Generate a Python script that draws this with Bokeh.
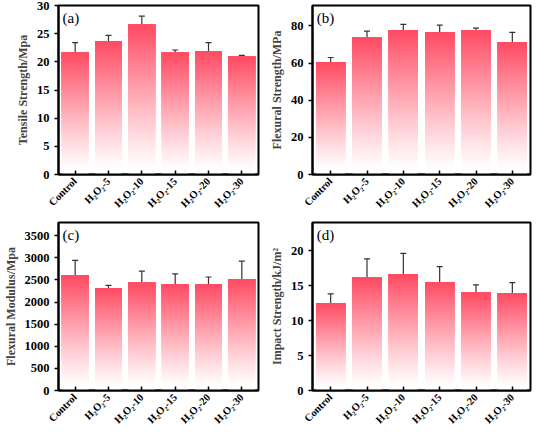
import math
from bokeh.plotting import figure
from bokeh.models import FixedTicker, Range1d, Whisker, TeeHead, ColumnDataSource, Label
from bokeh.layouts import gridplot
from bokeh.embed import file_html
from bokeh.resources import INLINE

categories = ["Control", "H₂O₂-5", "H₂O₂-10", "H₂O₂-15", "H₂O₂-20", "H₂O₂-30"]

tensile = [21.6, 23.7, 26.6, 21.6, 21.9, 20.9]
tensile_err = [1.8, 1.0, 1.5, 0.5, 1.5, 0.25]

flex_strength = [60.5, 73.7, 77.8, 76.6, 77.5, 71.3]
flex_strength_err = [2.5, 3.5, 3.0, 3.8, 1.3, 5.2]

flex_modulus = [2605, 2317, 2438, 2402, 2402, 2516]
flex_modulus_err = [340, 60, 260, 235, 165, 410]

impact = [12.5, 16.1, 16.6, 15.5, 14.0, 13.9]
impact_err = [1.3, 2.7, 3.0, 2.2, 1.1, 1.5]

SERIF = "Liberation Serif"
RED = (255, 74, 98)
N_SLICES = 80


def mix(t):
    r = [round(255 + (c - 255) * t) for c in RED]
    return "#%02x%02x%02x" % tuple(r)


def panel(values, errs, ylabel, letter, ymax, ticks, width, height,
          bl, br, bt, bb):
    p = figure(width=width, height=height, output_backend="svg",
               toolbar_location=None, x_range=Range1d(-0.5, 5.5),
               y_range=Range1d(0, ymax), min_border_left=bl,
               min_border_right=br, min_border_top=bt, min_border_bottom=bb)
    # gradient bars: overlapping opaque slices, each running up to the bar top
    lefts, rights, bottoms, tops, colors = [], [], [], [], []
    for k in range(N_SLICES):
        t = (k + 0.5) / N_SLICES
        a = max(0.0, min(1.0, (t - 0.04) / 0.96)) ** 1.1
        for i, v in enumerate(values):
            lefts.append(i - 0.4)
            rights.append(i + 0.4)
            bottoms.append(v * k / N_SLICES)
            tops.append(v)
            colors.append(mix(a))
    p.quad(left=lefts, right=rights, bottom=bottoms, top=tops,
           fill_color=colors, line_color=None)
    src = ColumnDataSource(dict(
        x=list(range(len(values))),
        upper=[v + e for v, e in zip(values, errs)],
        lower=[v - e for v, e in zip(values, errs)]))
    w = Whisker(base="x", upper="upper", lower="lower", source=src,
                line_color="#333333", line_width=1.2,
                upper_head=TeeHead(size=6, line_color="#333333", line_width=1.2),
                lower_head=TeeHead(size=6, line_color="#333333", line_width=1.2))
    p.add_layout(w)

    p.xgrid.visible = False
    p.ygrid.visible = False
    p.outline_line_color = "black"
    p.outline_line_width = 2
    p.outline_line_alpha = 1

    p.xaxis.ticker = FixedTicker(ticks=list(range(len(categories))))
    p.xaxis.major_label_overrides = {i: c for i, c in enumerate(categories)}
    p.xaxis.major_label_orientation = math.pi / 4
    p.xaxis.major_label_text_font = SERIF
    p.xaxis.major_label_text_font_style = "bold"
    p.xaxis.major_label_text_font_size = "10.5px"
    p.xaxis.major_label_text_color = "black"
    p.xaxis.major_tick_in = 4
    p.xaxis.major_tick_out = 0
    p.xaxis.minor_tick_line_color = None
    p.xaxis.axis_line_width = 2
    p.xaxis.major_tick_line_width = 1.5

    p.yaxis.ticker = FixedTicker(ticks=ticks)
    p.yaxis.major_label_text_font = SERIF
    p.yaxis.major_label_text_font_style = "bold"
    p.yaxis.major_label_text_font_size = "12.5px"
    p.yaxis.major_label_text_color = "black"
    p.yaxis.major_tick_in = 0
    p.yaxis.major_tick_out = 4
    p.yaxis.minor_tick_line_color = None
    p.yaxis.axis_line_width = 2
    p.yaxis.major_tick_line_width = 1.5
    p.yaxis.axis_label = ylabel
    p.yaxis.axis_label_text_font = SERIF
    p.yaxis.axis_label_text_font_style = "bold"
    p.yaxis.axis_label_text_font_size = "12px"
    p.yaxis.axis_label_standoff = 4

    p.add_layout(Label(x=-0.38, y=ymax * 0.975, text=letter,
                       text_font=SERIF, text_font_size="15px",
                       text_baseline="top", text_color="black"))
    return p


pa = panel(tensile, tensile_err, "Tensile Strength/Mpa", "(a)", 30,
           [0, 5, 10, 15, 20, 25, 30], 266, 216, 38, 8, 5, 37)
pb = panel(flex_strength, flex_strength_err, "Flexural Strength/MPa", "(b)", 91,
           [0, 20, 40, 60, 80], 268, 216, 46, 4, 5, 37)
pc = panel(flex_modulus, flex_modulus_err, "Flexural Modulus/Mpa", "(c)", 3800,
           [0, 500, 1000, 1500, 2000, 2500, 3000, 3500], 266, 216, 38, 8, 6, 36)
pd = panel(impact, impact_err, "Impact Strength/kJ/m²", "(d)", 24,
           [0, 5, 10, 15, 20], 268, 216, 46, 4, 6, 36)

grid = gridplot([[pa, pb], [pc, pd]], toolbar_location=None)

open("out.html", "w").write(file_html(grid, INLINE))
